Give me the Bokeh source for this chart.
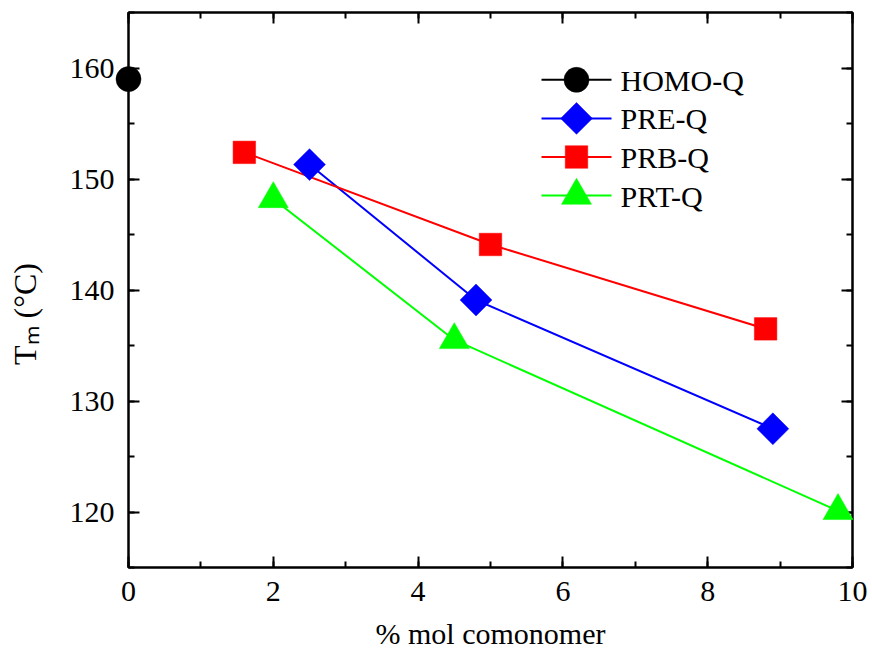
import math
from bokeh.plotting import figure
from bokeh.models import LinearAxis, SingleIntervalTicker, Label, Range1d
from bokeh.embed import file_html
from bokeh.resources import INLINE

# Melting temperature vs comonomer content
homo_x = [0.0]
homo_y = [159.0]

pre_x = [2.5, 4.8, 8.9]
pre_y = [151.3, 139.1, 127.5]

prb_x = [1.6, 5.0, 8.8]
prb_y = [152.4, 144.1, 136.5]

prt_x = [2.0, 4.5, 9.8]
prt_y = [148.2, 135.5, 120.1]

series_names = ["HOMO-Q", "PRE-Q", "PRB-Q", "PRT-Q"]

X0, X1 = 0, 10
Y0, Y1 = 115, 165

W, H = 872, 655
BL, BR, BT, BB = 128, 20, 12, 88
FONT = "Liberation Serif"
NBSP = "\u00a0"

p = figure(width=W, height=H, x_range=Range1d(X0, X1), y_range=Range1d(Y0, Y1),
           output_backend="svg", toolbar_location=None,
           min_border_left=BL, min_border_right=BR,
           min_border_top=BT, min_border_bottom=BB,
           x_axis_type=None, y_axis_type=None)
p.grid.visible = False
p.outline_line_color = "black"
p.outline_line_width = 2
p.background_fill_color = "white"
p.border_fill_color = "white"


def make_axis(interval, show_labels, standoff):
    ax = LinearAxis(ticker=SingleIntervalTicker(interval=interval, num_minor_ticks=2))
    ax.axis_line_color = "black"
    ax.axis_line_width = 2
    ax.major_tick_in = 11
    ax.major_tick_out = 0
    ax.minor_tick_in = 6
    ax.minor_tick_out = 0
    ax.major_tick_line_width = 2
    ax.minor_tick_line_width = 2
    ax.major_tick_line_color = "black"
    ax.minor_tick_line_color = "black"
    if show_labels:
        ax.major_label_text_font = FONT
        ax.major_label_text_font_size = "30px"
        ax.major_label_text_color = "black"
        ax.major_label_standoff = standoff
    else:
        # mirror axis: ticks only
        ax.major_label_text_font_size = "1px"
        ax.major_label_text_color = None
        ax.major_label_standoff = 0
    return ax


xb = make_axis(2, True, 14)
xb.axis_label = "% mol comonomer"
xb.axis_label_text_font = FONT
xb.axis_label_text_font_size = "30px"
xb.axis_label_text_font_style = "normal"
xb.axis_label_text_color = "black"
xb.axis_label_standoff = 13
p.add_layout(xb, "below")

yl = make_axis(10, True, 14)
# trailing no-break spaces push the centred title a little lower
yl.axis_label = "T\u2098 (°C)" + NBSP * 6
yl.axis_label_text_font = FONT
yl.axis_label_text_font_size = "32px"
yl.axis_label_text_font_style = "normal"
yl.axis_label_text_color = "black"
yl.axis_label_standoff = 24
p.add_layout(yl, "left")

p.add_layout(make_axis(2, False, 0), "above")
p.add_layout(make_axis(10, False, 0), "right")

LW = 2
colors = ["black", "#0000ff", "#ff0000", "#00ff00"]
markers = ["circle", "square", "square", "triangle"]
angles = [0, math.pi / 4, 0, 0]
sizes = [25, 22.5, 22.5, 30]
xs = [homo_x, pre_x, prb_x, prt_x]
ys = [homo_y, pre_y, prb_y, prt_y]

for i in range(4):
    p.line(xs[i], ys[i], line_color=colors[i], line_width=LW)
    p.scatter(xs[i], ys[i], marker=markers[i], angle=angles[i], size=sizes[i],
              fill_color=colors[i], line_color=colors[i], line_width=0.5,
              level="overlay")

FL, FR = BL, W - BR
FT, FB = BT, H - BB


def px_x(px):
    return X0 + (px - FL) / (FR - FL) * (X1 - X0)


def px_y(py):
    return Y0 + (FB - py) / (FB - FT) * (Y1 - Y0)


MID = 0.3375  # distance from baseline to text anchor, in em

# Legend drawn inside the frame: key line + marker, then the series name
ROW0, PITCH = 79.3, 38.6
KEY_L, KEY_R, TEXT_X = 541, 611, 620
for i, name in enumerate(series_names):
    row = ROW0 + PITCH * i
    cy = px_y(row)
    p.line([px_x(KEY_L), px_x(KEY_R)], [cy, cy], line_color=colors[i], line_width=LW)
    p.scatter([px_x((KEY_L + KEY_R) / 2)], [cy], marker=markers[i], angle=angles[i],
              size=sizes[i], fill_color=colors[i], line_color=colors[i], line_width=0.5)
    p.add_layout(Label(x=px_x(TEXT_X), y=px_y(row + 10.7 - MID * 30), text=name,
                       text_font=FONT, text_font_size="30px", text_color="black",
                       text_align="left", text_baseline="alphabetic"))

open("out.html", "w").write(file_html(p, INLINE))
